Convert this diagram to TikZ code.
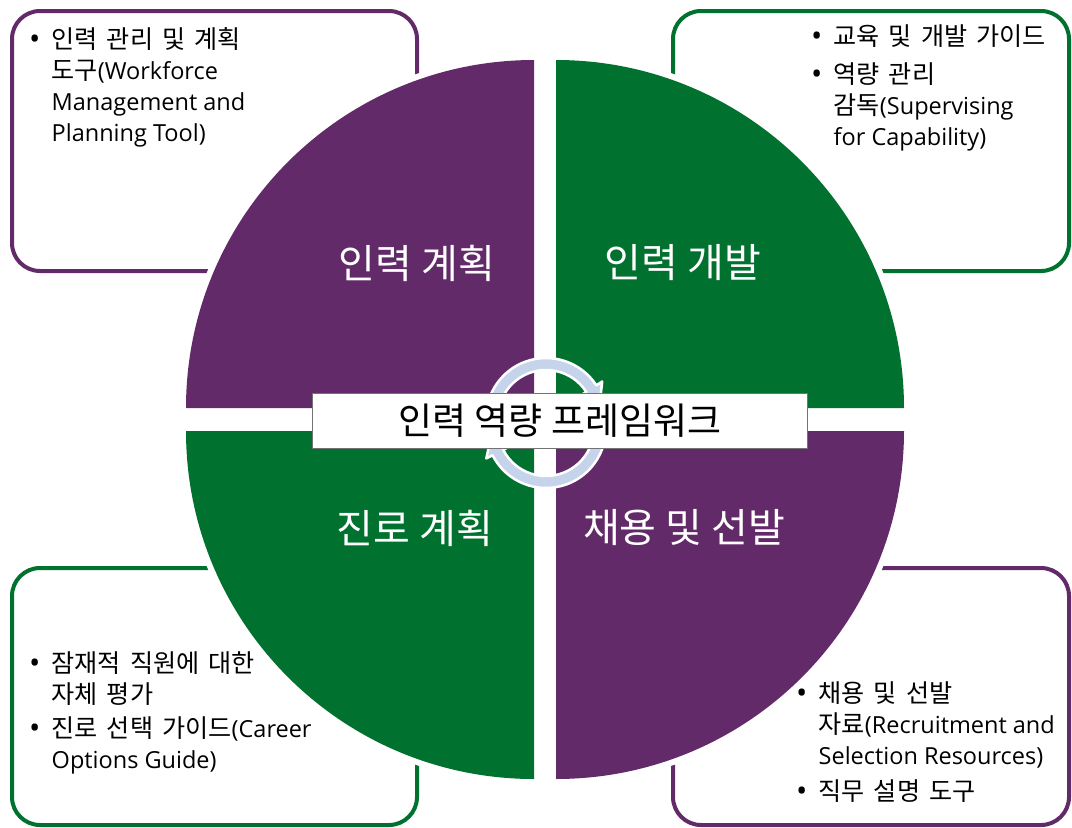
\documentclass[tikz,border=0pt]{standalone}
\usepackage{fontspec}
\setmainfont{Open Sans}
\newfontfamily\kr[Scale=1.07,WordSpace=1.6]{Noto Sans CJK KR}
\newfontfamily\krt{Noto Sans CJK KR}
\definecolor{purp}{RGB}{99,42,106}
\definecolor{grn}{RGB}{0,113,46}
\definecolor{cyc}{RGB}{197,212,234}
\newcommand\bul{\makebox[22.5pt][l]{\fontsize{30}{30}\selectfont\raisebox{-1pt}{•}}}
\newcommand\ind{\hspace*{22.5pt}}
\begin{document}
\begin{tikzpicture}[x=1pt,y=-1pt,
  cbox/.style={rounded corners=28pt, line width=4pt, fill=white, inner sep=0pt},
  quad/.style={preaction={draw=white,line width=12pt}},
  btxt/.style={inner sep=0pt, align=left, anchor=north west, font=\fontsize{23.5}{31}\selectfont},
  qlbl/.style={text=white, font=\krt\fontsize{40}{44}\selectfont, inner sep=0pt},
  cycarrow/.style={fill=cyc, draw=white, line width=2.5pt, line join=round}]
\useasboundingbox (0,0) rectangle (1072,828);
\fill[white] (0,0) rectangle (1072,828);
% corner boxes
\node[cbox, draw=purp, minimum width=405, minimum height=260] (b1) at (214.5,141) {};
\node[cbox, draw=grn, minimum width=396, minimum height=260] (b2) at (871,141) {};
\node[cbox, draw=grn, minimum width=405, minimum height=257] (b3) at (214.5,696.5) {};
\node[cbox, draw=purp, minimum width=396, minimum height=257] (b4) at (871,696.5) {};
% box texts
\node[btxt] (t1) at (29,27) {\bul{\kr 인력 관리 및 계획}\\\ind{\kr 도구}(Workforce\\\ind Management and\\\ind Planning Tool)};
\node[btxt] (t2) at (811,25) {\bul{\kr 교육 및 개발 가이드}\\[7pt]\bul{\kr 역량 관리}\\\ind{\kr 감독}(Supervising\\\ind for Capability)};
\node[btxt] (t3) at (29,651) {\bul{\kr 잠재적 직원에 대한}\\\ind{\kr 자체 평가}\\[3pt]\bul{\kr 진로 선택 가이드}(Career\\\ind Options Guide)};
\node[btxt] (t4) at (796,681) {\bul{\kr 채용 및 선발}\\\ind{\kr 자료}(Recruitment and\\\ind Selection Resources)\\[5pt]\bul{\kr 직무 설명 도구}};
% quadrants
\path[quad, fill=purp] (534,408) -- (186,408) arc[start angle=180, end angle=270, radius=348] -- cycle;
\path[quad, fill=grn] (556,408) -- (556,60) arc[start angle=270, end angle=360, radius=348] -- cycle;
\path[quad, fill=purp] (556,431) -- (904,431) arc[start angle=0, end angle=90, radius=348] -- cycle;
\path[quad, fill=grn] (534,431) -- (534,779) arc[start angle=90, end angle=180, radius=348] -- cycle;
% quadrant labels
\node[qlbl] (q1) at (417,263) {인력 계획};
\node[qlbl] (q2) at (683,263) {인력 개발};
\node[qlbl] (q3) at (415,528) {진로 계획};
\node[qlbl] (q4) at (684,528) {채용 및 선발};
% cycle arrows
\begin{scope}[shift={(546,418)}]
\path[cycarrow] (160:60) arc[start angle=160, end angle=327, radius=60] -- (327:67) -- (350:54) -- (327:41) -- (327:48) arc[start angle=327, end angle=160, radius=48] -- cycle;
\end{scope}
\begin{scope}[shift={(546,428)}]
\path[cycarrow] (-20:60) arc[start angle=-20, end angle=153, radius=60] -- (153:67) -- (176:54) -- (153:41) -- (153:48) arc[start angle=153, end angle=-20, radius=48] -- cycle;
\end{scope}
% centre title
\node[draw=black!55, fill=white, line width=1pt, minimum width=495, minimum height=55, inner sep=0pt, font=\krt\fontsize{37}{40}\selectfont] (fw) at (560,420.5) {인력 역량 프레임워크};
\end{tikzpicture}
\end{document}
